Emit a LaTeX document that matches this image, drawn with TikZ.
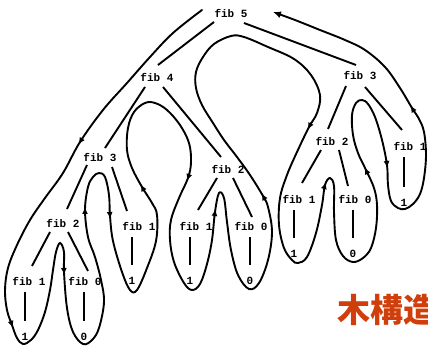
\documentclass[tikz,border=0pt]{standalone}
\usepackage{fontspec}
\setmonofont{Liberation Mono}
\newfontfamily\cjk{Noto Sans CJK JP}
\usetikzlibrary{calc,arrows.meta}
\definecolor{titlered}{RGB}{208,62,12}
\begin{document}
\begin{tikzpicture}[x=1pt,y=-1pt,
  lab/.style={font=\ttfamily\bfseries\fontsize{11}{11}\selectfont, inner sep=0pt},
  edge/.style={line width=1.9pt},
  walk/.style={line width=1.9pt, line join=round, line cap=round},
  tip/.style={-{Latex[length=7pt,width=6pt]}, line width=1.5pt}
]
\useasboundingbox (0,0) rectangle (428,347);
\clip (0,0) rectangle (428,347);
% tree nodes
\node[lab] (n5)  at (231,13)  {fib 5};
\node[lab] (n4)  at (157,77)  {fib 4};
\node[lab] (n3r) at (360,75)  {fib 3};
\node[lab] (n3l) at (100,157) {fib 3};
\node[lab] (n2m) at (228,169) {fib 2};
\node[lab] (n2r) at (332,141) {fib 2};
\node[lab] (n1r) at (410,146) {fib 1};
\node[lab] (n2l) at (63,223)  {fib 2};
\node[lab] (n1a) at (139,226) {fib 1};
\node[lab] (n1b) at (196,226) {fib 1};
\node[lab] (n0b) at (251,226) {fib 0};
\node[lab] (n1c) at (299,199) {fib 1};
\node[lab] (n0c) at (355,199) {fib 0};
\node[lab] (n1d) at (29,281)  {fib 1};
\node[lab] (n0d) at (85,281)  {fib 0};
% leaves
\node[lab] (l1d) at (25,337)  {1};
\node[lab] (l0d) at (84,337)  {0};
\node[lab] (l1a) at (132,281) {1};
\node[lab] (l1b) at (190,281) {1};
\node[lab] (l0b) at (250,281) {0};
\node[lab] (l1c) at (294,254) {1};
\node[lab] (l0c) at (353,254) {0};
\node[lab] (l1r) at (404,203) {1};
% edges
\draw[edge] ([shift={(-17,9)}]n5.center) -- ([shift={(1,-12)}]n4.center);
\draw[edge] ([shift={(13,10)}]n5.center) -- ([shift={(-4,-10)}]n3r.center);
\draw[edge] ([shift={(-12,10)}]n4.center) -- ([shift={(5,-9)}]n3l.center);
\draw[edge] ([shift={(6,10)}]n4.center) -- ([shift={(-7,-12)}]n2m.center);
\draw[edge] ([shift={(-14,11)}]n3r.center) -- ([shift={(-4,-12)}]n2r.center);
\draw[edge] ([shift={(5,12)}]n3r.center) -- ([shift={(-8,-16)}]n1r.center);
\draw[edge] ([shift={(-13,8)}]n3l.center) -- ([shift={(4,-14)}]n2l.center);
\draw[edge] ([shift={(12,10)}]n3l.center) -- ([shift={(-12,-15)}]n1a.center);
\draw[edge] ([shift={(-11,9)}]n2m.center) -- ([shift={(2,-16)}]n1b.center);
\draw[edge] ([shift={(5,9)}]n2m.center) -- ([shift={(1,-9)}]n0b.center);
\draw[edge] ([shift={(-11,9)}]n2r.center) -- ([shift={(3,-16)}]n1c.center);
\draw[edge] ([shift={(7,9)}]n2r.center) -- ([shift={(-7,-13)}]n0c.center);
\draw[edge] ([shift={(-13,9)}]n2l.center) -- ([shift={(3,-15)}]n1d.center);
\draw[edge] ([shift={(5,9)}]n2l.center) -- ([shift={(3,-10)}]n0d.center);
% leaf links
\draw[edge] ($(l1d |- n1d)+(0,11)$) -- ($(l1d)+(0,-16)$);
\draw[edge] ($(l0d |- n0d)+(0,11)$) -- ($(l0d)+(0,-16)$);
\draw[edge] ($(l1a |- n1a)+(0,11)$) -- ($(l1a)+(0,-16)$);
\draw[edge] ($(l1b |- n1b)+(0,11)$) -- ($(l1b)+(0,-16)$);
\draw[edge] ($(l0b |- n0b)+(0,11)$) -- ($(l0b)+(0,-16)$);
\draw[edge] ($(l1c |- n1c)+(0,11)$) -- ($(l1c)+(0,-16)$);
\draw[edge] ($(l0c |- n0c)+(0,11)$) -- ($(l0c)+(0,-16)$);
\draw[edge] ($(l1r |- n1r)+(0,11)$) -- ($(l1r)+(0,-16)$);
% traversal curve
\draw[walk, -{Latex[length=8pt,width=7pt]}] plot[smooth, tension=0.6] coordinates {
(202,10) (173,33) (150,57) (127,83) (103,110) (80,142) (63,173) (45,198) (30,220)
(17,245) (8,268) (5,290) (7,310) (12,325) (17,338) (23,344) (31,340) (38,330)
(45,312) (50,290) (53,270) (56,252) (60,243) (64,252) (64,272) (67,308) (73,332)
(83,344) (92,340) (99,328) (104,302) (101,280) (95,257) (88,237) (85,210) (88,187)
(93,177) (99,173) (105,177) (109,195) (110,216) (113,241) (122,272) (130,290)
(137,290) (147,268) (156,241) (157,215) (152,203) (142,187) (132,168) (127,150)
(128,128) (134,112) (145,103) (155,103) (167,110) (180,125) (189,143) (191,162)
(188,178) (179,198) (171,220) (170,240) (174,262) (184,283) (192,290) (200,284)
(207,264) (212,240) (215,212) (219,193) (224,198) (227,222) (231,250) (238,275)
(249,289) (259,283) (268,260) (272,232) (268,207) (263,196) (250,175) (237,157)
(224,140) (213,123) (202,105) (196,88) (196,72) (203,57) (214,44) (231,36) (244,37)
(268,47) (294,59) (311,75) (320,95) (317,113) (309,127) (297,152) (287,175)
(280,198) (279,225) (284,248) (292,260) (298,263) (307,257) (316,233) (322,205)
(325,185) (330,178) (334,186) (334,212) (336,240) (343,256) (353,262) (363,258)
(371,248) (376,228) (377,205) (374,188) (366,170) (358,153) (353,135) (352,115)
(356,103) (362,100) (368,104) (375,117) (382,140) (387,165) (388,185) (391,201)
(398,208) (405,209) (413,204) (420,194) (424,178) (426,155) (424,132) (419,119)
(412,108) (400,88) (385,67) (365,50) (345,40) (320,30) (295,20) (273,12)};
% direction marks
\draw[tip] (82.7,137.8) -- (78.4,144.5);
\draw[tip] (10.3,320.3) -- (13,327.8);
\draw[tip] (63.8,267) -- (64.2,275);
\draw[tip] (85,215) -- (85,207);
\draw[tip] (109.6,211) -- (110.3,219);
\draw[tip] (144.5,191.4) -- (140.5,184.4);
\draw[tip] (189.6,173.3) -- (187,180.9);
\draw[tip] (214.3,217) -- (215.5,209);
\draw[tip] (265.5,200.4) -- (261.5,193.4);
\draw[tip] (311.3,122.6) -- (307.6,129.7);
\draw[tip] (323.6,189.8) -- (325.8,182.1);
\draw[tip] (368.1,174.6) -- (364.7,167.3);
\draw[tip] (386.4,160) -- (387.4,168);
\draw[tip] (414.6,112.3) -- (410.4,105.5);
% title (cut off by the right edge, as in the reference)
\node[anchor=west, inner sep=0pt, text=titlered, font=\cjk\bfseries\fontsize{33}{33}\selectfont] (title) at (337,310) {木構造};
\end{tikzpicture}
\end{document}
